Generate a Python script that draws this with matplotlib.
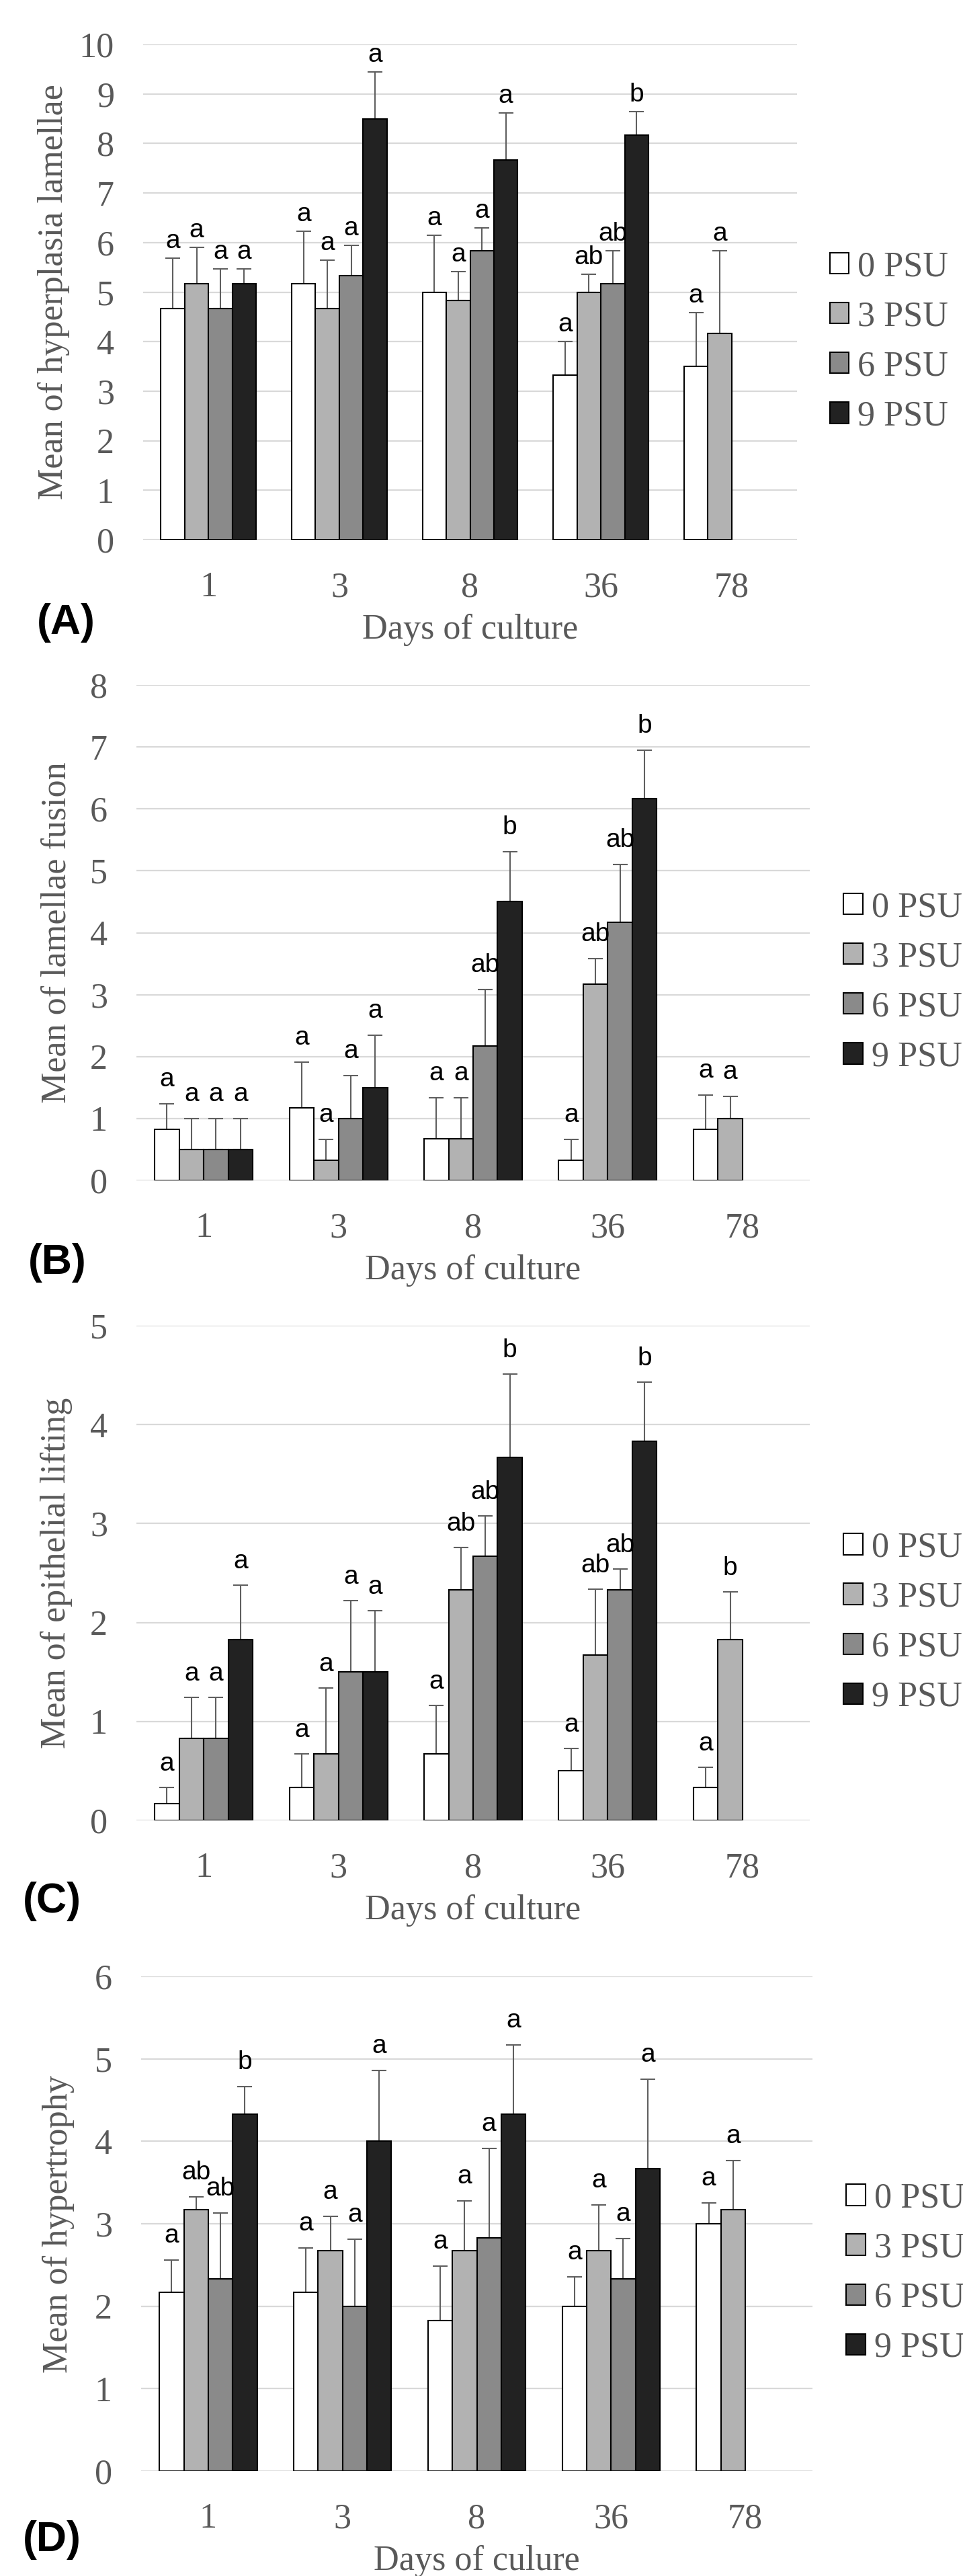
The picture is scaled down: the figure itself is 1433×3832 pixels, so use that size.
import numpy as np
import matplotlib as mpl

mpl.use("Agg")
import matplotlib.pyplot as plt  # noqa: E402

DAYS = ["1", "3", "8", "36", "78"]
SALINITY = ["0 PSU", "3 PSU", "6 PSU", "9 PSU"]
FILLS = ["#ffffff", "#b2b2b2", "#8a8a8a", "#222222"]

# rows = 0 / 3 / 6 / 9 PSU, columns = days; None = not sampled
HYP_MEAN = [[4.67, 5.17, 5.00, 3.33, 3.50],
            [5.17, 4.67, 4.83, 5.00, 4.17],
            [4.67, 5.33, 5.83, 5.17, None],
            [5.17, 8.50, 7.67, 8.17, None]]
HYP_SD = [[1.01, 1.06, 1.15, 0.67, 1.08],
          [0.73, 0.98, 0.59, 0.36, 1.66],
          [0.80, 0.61, 0.47, 0.66, None],
          [0.30, 0.94, 0.94, 0.47, None]]
HYP_LET = [["a", "a", "a", "a", "a"],
           ["a", "a", "a", "ab", "a"],
           ["a", "a", "a", "ab", None],
           ["a", "a", "a", "b", None]]

FUS_MEAN = [[0.83, 1.17, 0.67, 0.33, 0.83],
            [0.50, 0.33, 0.67, 3.17, 1.00],
            [0.50, 1.00, 2.17, 4.17, None],
            [0.50, 1.50, 4.50, 6.17, None]]
FUS_SD = [[0.41, 0.74, 0.66, 0.33, 0.55],
          [0.50, 0.33, 0.66, 0.41, 0.36],
          [0.50, 0.69, 0.91, 0.93, None],
          [0.50, 0.85, 0.81, 0.78, None]]
FUS_LET = [["a", "a", "a", "a", "a"],
           ["a", "a", "a", "ab", "a"],
           ["a", "a", "ab", "ab", None],
           ["a", "a", "b", "b", None]]

LIFT_MEAN = [[0.17, 0.33, 0.67, 0.50, 0.33],
             [0.83, 0.67, 2.33, 1.67, 1.83],
             [0.83, 1.50, 2.67, 2.33, None],
             [1.83, 1.50, 3.67, 3.83, None]]
LIFT_SD = [[0.16, 0.34, 0.49, 0.23, 0.21],
           [0.41, 0.67, 0.43, 0.67, 0.48],
           [0.41, 0.72, 0.41, 0.21, None],
           [0.55, 0.62, 0.84, 0.60, None]]
LIFT_LET = [["a", "a", "a", "a", "a"],
            ["a", "a", "ab", "ab", "b"],
            ["a", "a", "ab", "ab", None],
            ["a", "a", "b", "b", None]]

HYT_MEAN = [[2.17, 2.17, 1.83, 2.00, 3.00],
            [3.17, 2.67, 2.67, 2.67, 3.17],
            [2.33, 2.00, 2.83, 2.33, None],
            [4.33, 4.00, 4.33, 3.67, None]]
HYT_SD = [[0.39, 0.54, 0.66, 0.36, 0.25],
          [0.16, 0.42, 0.61, 0.56, 0.60],
          [0.80, 0.81, 1.08, 0.49, None],
          [0.33, 0.86, 0.84, 1.08, None]]
HYT_LET = [["a", "a", "a", "a", "a"],
           ["ab", "a", "a", "a", "a"],
           ["ab", "a", "a", "a", None],
           ["b", "a", "a", "a", None]]

SERIF = "Liberation Serif"
SANS = "Liberation Sans"
GREY_TXT = "#595959"
FS = 37.5
W_PX, H_PX, DPI = 1433, 3832, 100

# panel: (tag, ylabel, xlabel, means, sds, letters, ymax, box px l,r,top,bottom,
#         letter offset px, ylabel distance px, tag centre px)
PANELS = [
    ("(A)", "Mean of hyperplasia lamellae", "Days of culture", HYP_MEAN, HYP_SD, HYP_LET, 10,
     (213, 1186, 66, 803), 15, 133, (98, 926)),
    ("(B)", "Mean of lamellae fusion", "Days of culture", FUS_MEAN, FUS_SD, FUS_LET, 8,
     (203, 1205, 1019, 1756), 26, 118, (85, 1878)),
    ("(C)", "Mean of epithelial lifting", "Days of culture", LIFT_MEAN, LIFT_SD, LIFT_LET, 5,
     (203, 1205, 1972, 2708), 25, 119, (77, 2829)),
    ("(D)", "Mean of hypertrophy", "Days of culure", HYT_MEAN, HYT_SD, HYT_LET, 6,
     (210, 1209, 2940, 3676), 26, 123, (77, 3779)),
]

fig = plt.figure(figsize=(W_PX / DPI, H_PX / DPI), dpi=DPI)
px2pt = 72 / DPI
BW = 0.182

for tag, ylab, xlab, means, sds, lets, ymax, (l, r, t, b), off, ylx, (tx, ty) in PANELS:
    ax = fig.add_axes([l / W_PX, 1 - b / H_PX, (r - l) / W_PX, (b - t) / H_PX])
    xs = np.arange(len(DAYS))
    for k in range(4):
        idx = [j for j in range(len(DAYS)) if means[k][j] is not None]
        x = xs[idx] + (k - 1.5) * BW
        m = np.array([means[k][j] for j in idx])
        s = np.array([sds[k][j] for j in idx])
        ax.bar(x, m, BW, color=FILLS[k], edgecolor="black", lw=1.5, zorder=3, label=SALINITY[k])
        # upper-only error bars; the lower cap hides under the bar top
        ax.errorbar(x, m, yerr=[np.zeros_like(s), s], fmt="none", ecolor="#5f5f5f",
                    elinewidth=1.5, capsize=8, capthick=1.5, zorder=2)
        for xi, top, j in zip(x, m + s, idx):
            ax.annotate(lets[k][j], (xi, top), xytext=(0, off * px2pt), textcoords="offset points",
                        ha="center", va="baseline", fontsize=28, family=SANS, color="black", zorder=4)

    ax.set_xlim(-0.5, len(DAYS) - 0.5)
    ax.set_ylim(0, ymax)
    ax.set_yticks(range(ymax + 1))
    ax.set_xticks(xs)
    ax.set_xticklabels(DAYS)
    for sp in ax.spines.values():
        sp.set_visible(False)
    ax.yaxis.grid(True, color="#d9d9d9", lw=1.6, zorder=0)
    ax.set_axisbelow(True)
    ax.tick_params(axis="both", length=0, labelsize=FS, labelcolor=GREY_TXT)
    ax.tick_params(axis="y", pad=31)
    ax.tick_params(axis="x", pad=34)
    for lab in ax.get_xticklabels() + ax.get_yticklabels():
        lab.set_family(SERIF)

    ax.set_ylabel(ylab, fontsize=FS, family=SERIF, color=GREY_TXT, va="center")
    ax.yaxis.set_label_coords(-ylx / (r - l), 0.5)
    ax.set_xlabel(xlab, fontsize=FS, family=SERIF, color=GREY_TXT, va="center")
    ax.xaxis.set_label_coords(0.5, -134 / (b - t))

    ax.legend(loc="center left", bbox_to_anchor=(1.05, 0.4), frameon=False,
              prop={"family": SERIF, "size": FS}, labelcolor=GREY_TXT,
              handlelength=0.55, handleheight=0.55, handletextpad=0.25,
              labelspacing=0.5, borderpad=0, borderaxespad=0)

    fig.text(tx / W_PX, 1 - ty / H_PX, tag, ha="center", va="center",
             fontsize=45, fontweight="bold", family=SANS, color="black")

fig.savefig("out.png", dpi=DPI)
plt.close(fig)
